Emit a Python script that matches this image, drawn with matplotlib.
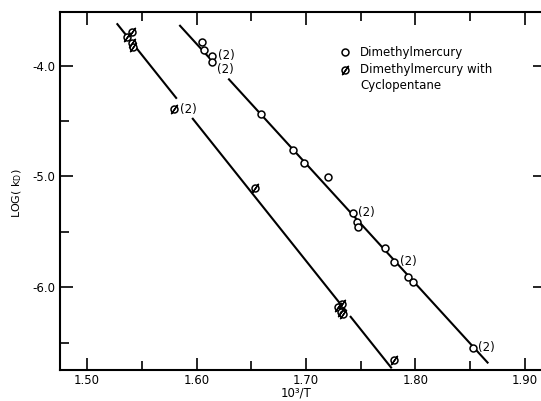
import numpy as np
import matplotlib
matplotlib.use("Agg")
import matplotlib.pyplot as plt

# Dimethylmercury (open circles)
dmm_x = [1.6047, 1.6068, 1.6144, 1.6139, 1.6586, 1.6884, 1.6982, 1.7204,
         1.7426, 1.7463, 1.7478, 1.7721, 1.7804, 1.7934, 1.7980, 1.8522]
dmm_y = [-3.791, -3.860, -3.912, -3.966, -4.438, -4.763, -4.883, -5.004,
         -5.329, -5.410, -5.460, -5.650, -5.771, -5.906, -5.951, -6.552]
dmm_n = [1, 1, 2, 2, 1, 1, 1, 1, 2, 1, 1, 1, 2, 1, 1, 2]

# Dimethylmercury with cyclopentane (slashed circles)
cp_x = [1.5408, 1.5365, 1.5414, 1.5423, 1.5795, 1.6534,
        1.7326, 1.7295, 1.7317, 1.7341, 1.7804]
cp_y = [-3.695, -3.740, -3.794, -3.836, -4.395, -5.108,
        -6.153, -6.177, -6.222, -6.243, -6.658]
cp_n = [1, 1, 1, 1, 2, 1, 1, 1, 1, 1, 1]

# drawn lines (end points) and the breaks left in them
fit_dmm_x = [1.5843, 1.8665]
fit_dmm_y = [-3.634, -6.688]
gaps_dmm = [(1.616, 1.629)]
fit_cp_x = [1.5271, 1.7783]
fit_cp_y = [-3.619, -6.733]
gaps_cp = [(1.582, 1.596), (1.737, 1.7402)]

xticks = [1.50, 1.60, 1.70, 1.80, 1.90]
yticks = [-4.0, -5.0, -6.0]


def draw_fit(ax, xs, ys, gaps):
    pts = [xs[0]]
    for a, b in gaps:
        pts += [a, b]
    pts.append(xs[1])
    for i in range(0, len(pts), 2):
        sx = [pts[i], pts[i + 1]]
        sy = np.interp(sx, xs, ys)
        ax.plot(sx, sy, color="black", lw=1.5, solid_capstyle="butt", zorder=2)


plt.rcParams["font.family"] = "DejaVu Sans"

fig = plt.figure(figsize=(5.41, 4.01), dpi=100)
ax = fig.add_axes([60 / 541, 1 - 370 / 401, 485 / 541, 358.3 / 401])

draw_fit(ax, fit_dmm_x, fit_dmm_y, gaps_dmm)
draw_fit(ax, fit_cp_x, fit_cp_y, gaps_cp)

mk = dict(ls="none", marker="o", ms=5, mfc="white", mec="black", mew=1.1, zorder=3)
sl = dict(ls="none", marker=(2, 2, -35), ms=8, mec="black", mew=1.0, zorder=4)
ax.plot(dmm_x, dmm_y, **mk)
ax.plot(cp_x, cp_y, **mk)
ax.plot(cp_x, cp_y, **sl)

lab = dict(textcoords="offset points", fontsize=8.5, va="center", ha="left")
for i, (x, y, n) in enumerate(zip(dmm_x, dmm_y, dmm_n)):
    if n == 2:
        dy = -5.5 if i == 3 else 0.5
        ax.annotate("(2)", (x, y), xytext=(4, dy), **lab)
for x, y, n in zip(cp_x, cp_y, cp_n):
    if n == 2:
        ax.annotate("(2)", (x, y), xytext=(4, 0), **lab)

ax.set_xlim(1.4753, 1.9183)
ax.set_ylim(-6.748, -3.514)
ax.set_xticks(xticks)
ax.set_xticklabels(["1.50", "1.60", "1.70", "1.80", "1.90"])
ax.set_xticks(np.arange(1.55, 1.90, 0.10), minor=True)
ax.set_yticks(yticks)
ax.set_yticklabels(["-4.0", "-5.0", "-6.0"])
ax.set_yticks([-4.5, -5.5, -6.5], minor=True)

ax.tick_params(which="both", direction="in", top=True, right=True, width=1.2,
               labelsize=8.5, pad=3.5)
ax.tick_params(axis="x", pad=3)
ax.tick_params(which="major", length=9)
ax.tick_params(which="minor", length=6.5)
ax.tick_params(axis="y", which="minor", right=False)
for s in ax.spines.values():
    s.set_linewidth(1.5)

# legend drawn by hand, marker beside the first line of each entry
ax.plot([0.5876], [0.8875], transform=ax.transAxes, clip_on=False, **mk)
ax.plot([0.5876], [0.8373], transform=ax.transAxes, clip_on=False, **mk)
ax.plot([0.5876], [0.8373], transform=ax.transAxes, clip_on=False, **sl)
ax.text(0.6186, 0.8875, "Dimethylmercury", transform=ax.transAxes, fontsize=8.5, va="center")
ax.text(0.6186, 0.8373, "Dimethylmercury with", transform=ax.transAxes, fontsize=8.5, va="center")
ax.text(0.6186, 0.7954, "Cyclopentane", transform=ax.transAxes, fontsize=8.5, va="center")

fig.text(17 / 541, 1 - 193 / 401, "LOG( k$_\\mathrm{D}$)", rotation=90,
         ha="center", va="center", fontsize=8)
fig.text(296 / 541, 1 / 401, "10³/T", ha="center", va="bottom", fontsize=8.5)

fig.savefig("out.png", dpi=100)
